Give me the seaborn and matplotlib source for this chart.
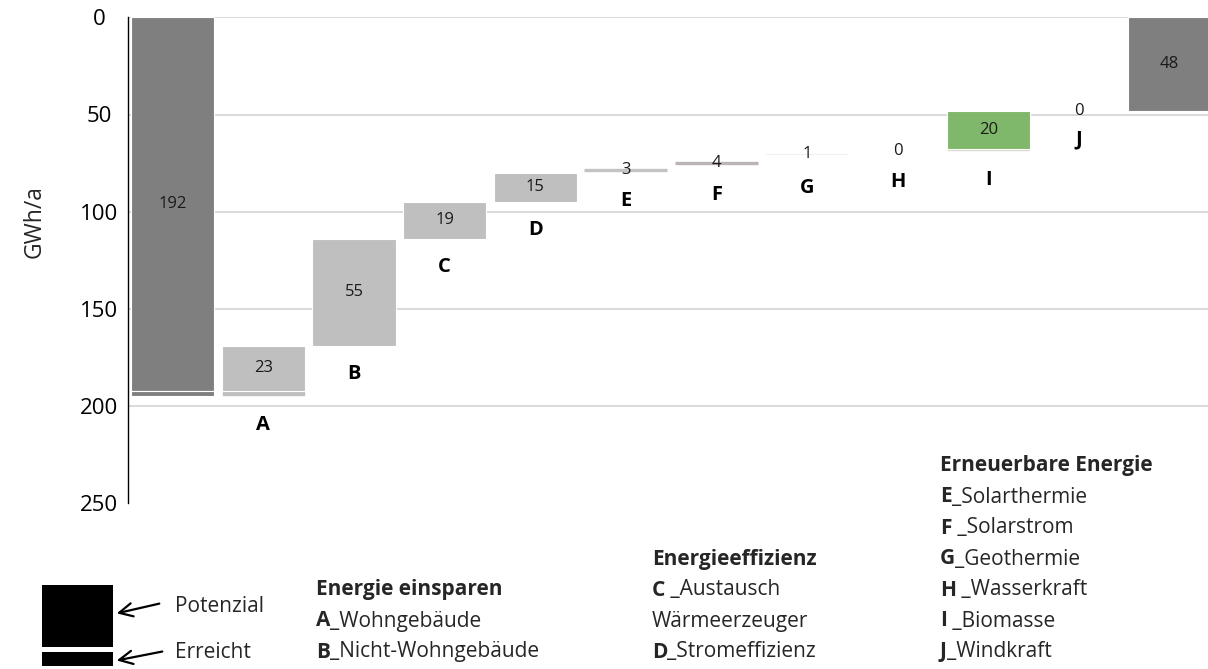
import numpy as np
import pandas as pd
import matplotlib
matplotlib.use("Agg")
import matplotlib.pyplot as plt
import seaborn as sns
from matplotlib.patches import Rectangle, FancyArrowPatch

# ---- data (GWh/a) ----
start_potenzial = 192
start_erreicht = 3
codes = ["A", "B", "C", "D", "E", "F", "G", "H", "I", "J"]
potenzial = [23, 55, 19, 15, 3, 4, 1, 0, 20, 0]
erreicht = [3, 0, 0, 0, 0, 0, 2, 1, 1, 0]
end_value = 48
y_ticks = [0, 50, 100, 150, 200, 250]

group_savings = ("Energie einsparen", [("A", "_Wohngebäude"), ("B", "_Nicht-Wohngebäude")])
group_efficiency = ("Energieeffizienz", [("C", " _Austausch"), ("", "Wärmeerzeuger"), ("D", "_Stromeffizienz")])
group_renewable = ("Erneuerbare Energie", [("E", "_Solarthermie"), ("F", " _Solarstrom"),
                                           ("G", "_Geothermie"), ("H", " _Wasserkraft"),
                                           ("I", " _Biomasse"), ("J", "_Windkraft")])

# ---- styles ----
DARK = "#7f7f7f"
LIGHT = "#bfbfbf"
GREEN = "#7fb76b"
pot_style = {"A": ("bar", LIGHT), "B": ("bar", LIGHT), "C": ("bar", LIGHT), "D": ("bar", LIGHT),
             "E": ("line", "#c3c3c3"), "F": ("line", "#bcb4b4"), "G": ("bar", "#efefef"),
             "H": ("bar", "none"), "I": ("bar", GREEN), "J": ("bar", "none")}
err_color = {"A": LIGHT, "G": "none", "H": "none", "I": "#d9d9cc"}

sns.set_theme(style="white")
plt.rcParams["font.family"] = ["Open Sans", "DejaVu Sans"]

W, H = 1208, 669
fig = plt.figure(figsize=(W / 100, H / 100), dpi=100)
fx = lambda px: px / W
fy = lambda py: 1 - py / H

ax = fig.add_axes([fx(127.5), fy(503.3), 1087.2 / W, (503.3 - 17.3) / H])

labels_x = ["Start"] + codes + ["Ziel"]
totals = [start_potenzial] + [np.nan] * len(codes) + [end_value]
df = pd.DataFrame({"kat": labels_x, "wert": totals})
BAR_W = 0.92
sns.barplot(data=df, x="kat", y="wert", order=labels_x, color=DARK, saturation=1,
            width=BAR_W, edgecolor="white", linewidth=0.8, ax=ax, zorder=3)

VAL_FS = 12
# start: achieved part below the potential
level = start_potenzial + start_erreicht
ax.bar(0, start_erreicht, bottom=start_potenzial, width=BAR_W, color=DARK,
       edgecolor="white", linewidth=0.8, zorder=3)
ax.text(0, start_potenzial / 2, f"{start_potenzial}", ha="center", va="center",
        fontsize=VAL_FS, color="#1a1a1a", zorder=5)
ax.text(len(labels_x) - 1, end_value / 2, f"{end_value}", ha="center", va="center",
        fontsize=VAL_FS, color="#1a1a1a", zorder=5)

for i, (code, p, e) in enumerate(zip(codes, potenzial, erreicht), start=1):
    seg_bottom = level
    if e > 0 and err_color.get(code, "none") != "none":
        ax.bar(i, e, bottom=level - e, width=BAR_W, color=err_color[code],
               edgecolor="white", linewidth=0.5, zorder=3)
    top = level - e - p
    kind, col = pot_style[code]
    if p > 0 and col != "none":
        if kind == "bar":
            ax.bar(i, p, bottom=top, width=BAR_W, color=col, edgecolor="white",
                   linewidth=0.8, zorder=3)
        else:
            ax.hlines(top + p / 2, i - BAR_W / 2, i + BAR_W / 2, color=col,
                      linewidth=2.4, zorder=3)
    ax.text(i, top + p / 2, f"{p}", ha="center", va="center", fontsize=VAL_FS,
            color="#1a1a1a", zorder=5)
    ax.annotate(code, xy=(i, seg_bottom), xytext=(0, -20.5), textcoords="offset points",
                ha="center", va="center", fontsize=14.5, fontweight="bold", color="black")
    level = top

ax.set_xlim(-0.5, len(labels_x) - 0.5)
ax.set_ylim(250, 0)
ax.set_yticks(y_ticks)
ax.set_xticks([])
ax.set_xlabel("")
ax.set_ylabel("")
ax.yaxis.grid(True, color="#d9d9d9", linewidth=1.4, zorder=0)
ax.get_ygridlines()[-1].set_visible(False)
ax.set_axisbelow(True)
for s in ["top", "right", "bottom"]:
    ax.spines[s].set_visible(False)
ax.spines["left"].set_color("black")
ax.spines["left"].set_linewidth(1.0)
ax.tick_params(axis="y", length=0, pad=20.5, labelsize=16, labelcolor="black")
for lab in ax.get_yticklabels():
    lab.set_horizontalalignment("center")

fig.text(fx(35), fy(222), "GWh/a", rotation=90, ha="center", va="center", fontsize=16.5)

# ---- explanatory text blocks ----
renderer = fig.canvas.get_renderer()
FS = 15


def rich_line(px, py, bold, rest):
    x = fx(px)
    if bold:
        t = fig.text(x, fy(py), bold, fontweight="bold", fontsize=FS, va="center", ha="left")
        bb = t.get_window_extent(renderer)
        x = bb.x1 / W
    fig.text(x, fy(py), rest, fontsize=FS, va="center", ha="left")


def block(px, py_last, group):
    title, items = group
    step = 31
    n = len(items)
    y0 = py_last - n * step
    fig.text(fx(px), fy(y0), title, fontweight="bold", fontsize=FS, va="center", ha="left")
    for k, (b, r) in enumerate(items, start=1):
        rich_line(px, y0 + k * step, b, r)


block(316, 652, group_savings)
block(652, 652, group_efficiency)
block(940, 652, group_renewable)

# key: potential / achieved
fig.patches.append(Rectangle((fx(42), fy(647)), 71 / W, 62 / H, transform=fig.transFigure,
                             facecolor="black", edgecolor="none"))
fig.patches.append(Rectangle((fx(42), fy(666)), 71 / W, 14 / H, transform=fig.transFigure,
                             facecolor="black", edgecolor="none"))
for (x0, y0, x1, y1) in [(162, 603, 114, 614), (165, 651, 114, 661)]:
    fig.patches.append(FancyArrowPatch((fx(x0), fy(y0)), (fx(x1), fy(y1)),
                                       transform=fig.transFigure, arrowstyle="->",
                                       mutation_scale=24, linewidth=1.6, color="black"))
fig.text(fx(175), fy(606), "Potenzial", fontsize=FS, va="center", ha="left")
fig.text(fx(175), fy(652), "Erreicht", fontsize=FS, va="center", ha="left")

fig.savefig("out.png", dpi=100)
